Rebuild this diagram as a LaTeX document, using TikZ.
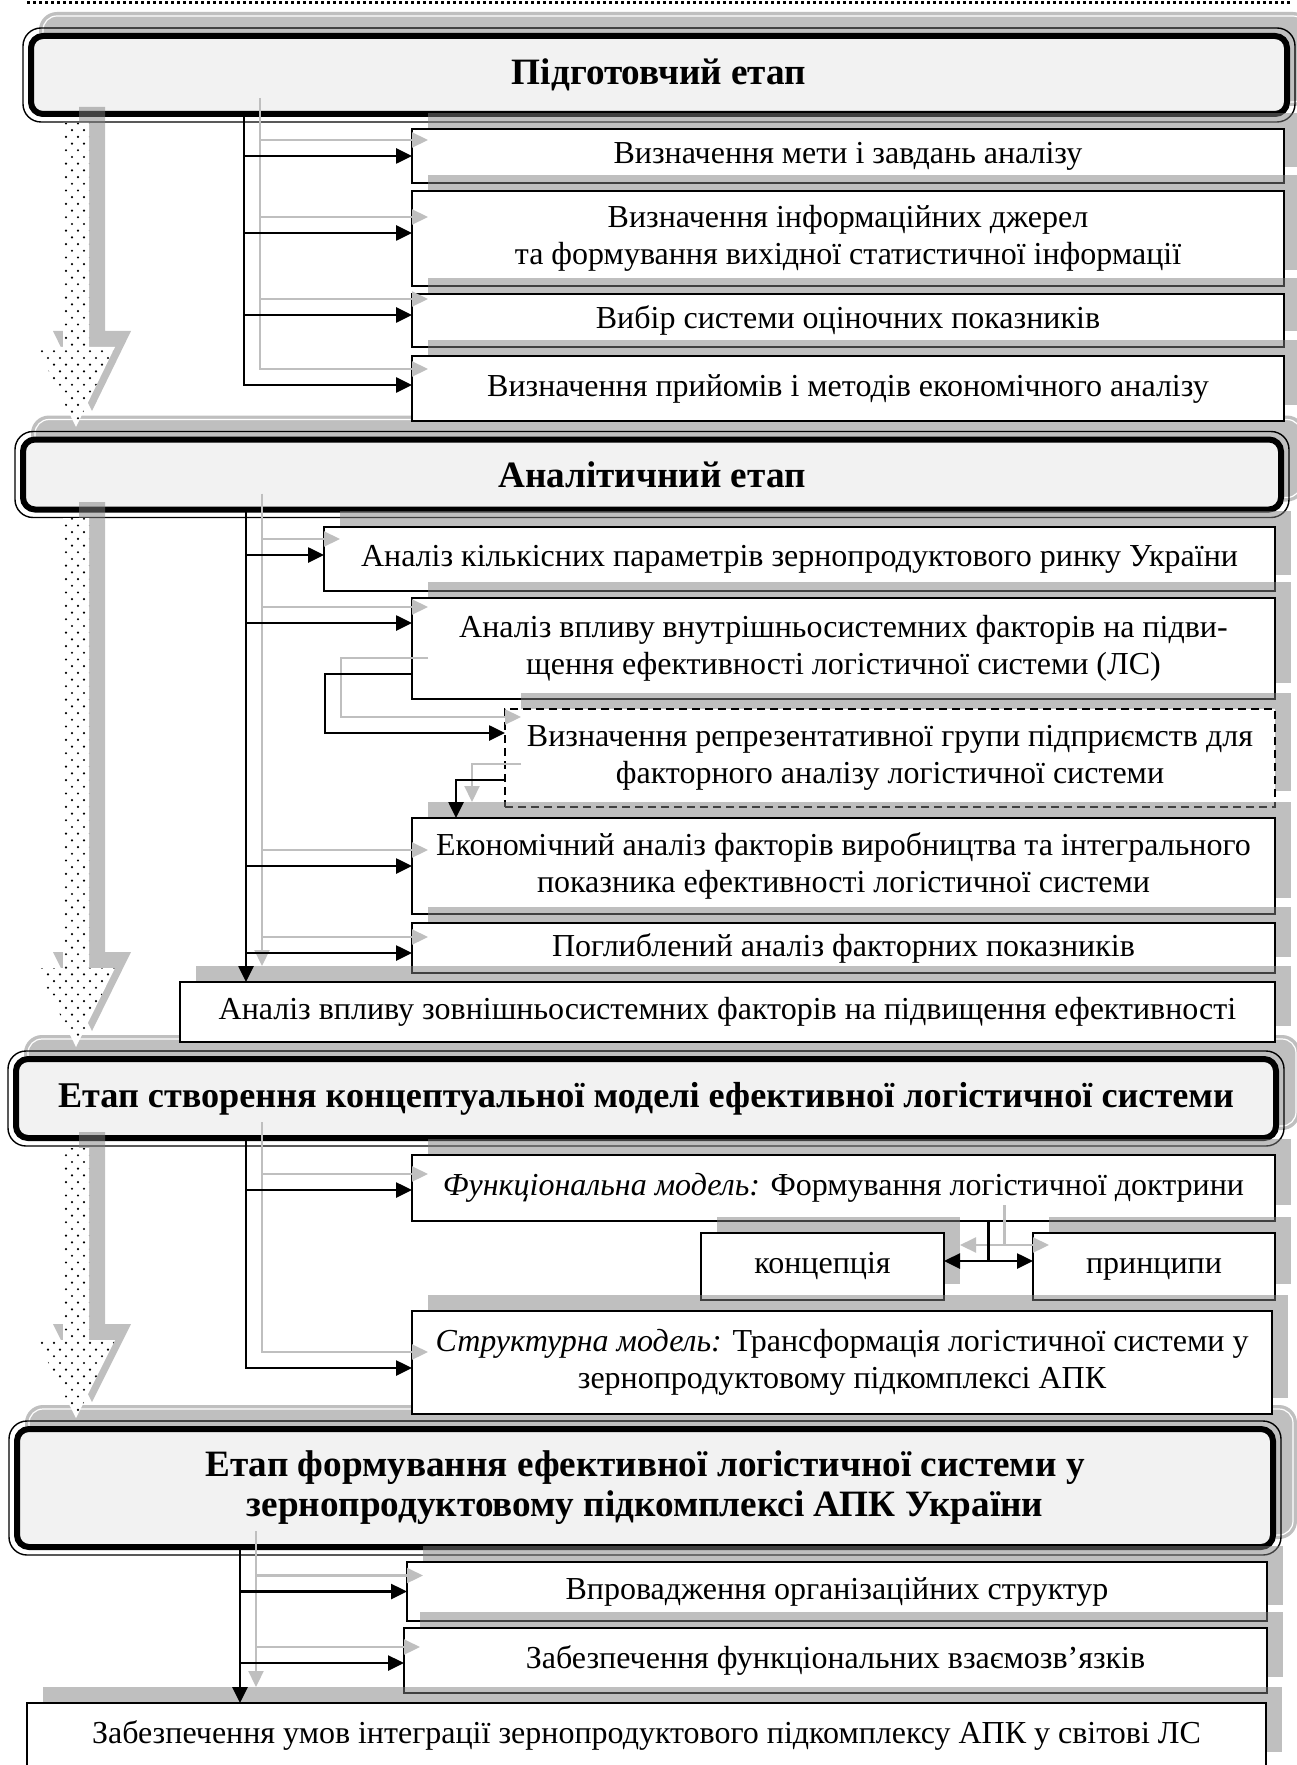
\documentclass[tikz,border=0pt]{standalone}
\usepackage{fontspec}
\setmainfont{Liberation Serif}
\usetikzlibrary{arrows.meta,shadows,patterns,calc}
\pgfdeclarelayer{bg}
\pgfsetlayers{bg,main}
\pgfdeclarepatternformonly{stagedots}{\pgfqpoint{-1pt}{-1pt}}{\pgfqpoint{7pt}{7.7pt}}{\pgfqpoint{6pt}{6.7pt}}{%
  \pgfpathcircle{\pgfqpoint{0pt}{0pt}}{0.6pt}%
  \pgfpathcircle{\pgfqpoint{3pt}{3.35pt}}{0.6pt}%
  \pgfusepath{fill}}
\definecolor{hdrfill}{HTML}{F2F2F2}
\newcommand\myBody{\fontsize{16}{18.5}\selectfont}
\newcommand\myHdr{\fontsize{18.6}{20}\selectfont\bfseries}
\newcommand\myHdrS{\fontsize{18.1}{20}\selectfont\bfseries}
\newcommand\allconnectors[1]{%
  % section 1
  \draw[#1,arr] (T1 |- H1.south) |- (iB4);
  \foreach \b in {iB1,iB2,iB3}{\draw[#1,arr] (T1 |- \b) -- (\b);}
  % section 2
  \draw[#1,arr] (T2 |- H2.south) -- (T2 |- E3.north);
  \foreach \b in {iC1,iC2,iE1,iE2}{\draw[#1,arr] (T2 |- \b) -- (\b);}
  \draw[#1,arr] ([yshift=12.5pt]C2.south west) -- ++(-87,0) |- ([yshift=-12pt]D1.north west);
  \draw[#1,arr] ([yshift=13.5pt]D1.south west) -| ([xshift=22pt]E1.north west);
  % section 3
  \draw[#1,arr] (T3 |- H3.south) |- (iF2);
  \draw[#1,arr] (T3 |- iF1) -- (iF1);
  \draw[#1] (KP |- F1.south) -- ([yshift=2.75pt]KP);
  \draw[#1,darr] ([yshift=2.75pt]K1.east) -- ([yshift=2.75pt]P1.west);
  % section 4
  \draw[#1,arr] (T4 |- H4.south) -- (T4 |- G3.north);
  \foreach \b in {iG1,iG2}{\draw[#1,arr] (T4 |- \b) -- (\b);}
}
\begin{document}
\begin{tikzpicture}[x=0.5pt,y=-0.5pt,
  box/.style={draw=black, line width=1.1pt, fill=white, inner sep=0pt, outer sep=0pt,
    align=center, font=\myBody,
    drop shadow={shadow xshift=8pt, shadow yshift=8pt, opacity=0.5, fill=black!50}},
  dbox/.style={box, dash pattern=on 4pt off 2.5pt, line width=0.8pt},
  hdr/.style={draw=black, line width=3pt, fill=hdrfill, rounded corners=6pt,
    inner sep=0pt, outer sep=0pt, align=center, font=\myHdr},
  sz/.style 2 args={minimum width=#1*0.5pt, minimum height=#2*0.5pt},
  hout/.style={draw=black, line width=0.7pt, rounded corners=9pt},
  hshadow/.style={fill=black!25, rounded corners=9pt},
  conn/.style={draw=black, line width=1.3pt},
  ghost/.style={draw=black!25, line width=1.1pt, transform canvas={shift={(16,-16)}}},
  arr/.style={-{Triangle[length=8pt,width=7.5pt]}},
  darr/.style={{Triangle[length=8pt,width=7.5pt]}-{Triangle[length=8pt,width=7.5pt]}},
  bigshadow/.style={fill=black!50, opacity=0.5}
]
\useasboundingbox (0,0) rectangle (1296,1765);

% top dotted rule
\draw[line width=1.5pt, dash pattern=on 1.5pt off 1.5pt] (27,3) -- (1292,3);

% headers
\node[hdr, sz={1256}{78}] (H1) at (659,75) {Підготовчий етап};
\node[hdr, sz={1258}{70}] (H2) at (652,474.5) {Аналітичний етап};
\node[hdr, sz={1260}{79}, font=\myHdrS] (H3) at (646,1098.5) {Етап створення концептуальної моделі ефективної логістичної системи};
\node[hdr, sz={1256}{118}] (H4) at (645,1488) {Етап формування ефективної логістичної системи у\\зернопродуктовому підкомплексі АПК України};
\foreach \h in {H1,H2,H3,H4}{
  \draw[hout] ([shift={(-8,-8)}]\h.north west) rectangle ([shift={(8,8)}]\h.south east);
}
\begin{pgfonlayer}{bg}
  \fill[white] (0,0) rectangle (1296,1765);
  \foreach \h in {H1,H2,H3,H4}{
    \fill[hshadow] ([shift={(8,-24)}]\h.north west) rectangle ([shift={(24,-8)}]\h.south east);
    \draw[white, line width=0.6pt, rounded corners=7pt] ([shift={(12,-20)}]\h.north west) rectangle ([shift={(20,-12)}]\h.south east);
  }
\end{pgfonlayer}

% big stage arrows
\foreach \t/\b/\p in {123/347/427, 518/968/1047, 1148/1340/1418}{
  \fill[bigshadow, shift={(16,-16)}] (63,\t) -- (89,\t) -- (89,\b) -- (115,\b) -- (76,\p) -- (37,\b) -- (63,\b) -- cycle;
  \fill[white] (63,\t) -- (89,\t) -- (89,\b) -- (115,\b) -- (76,\p) -- (37,\b) -- (63,\b) -- cycle;
  \fill[pattern=stagedots] (63,\t) -- (89,\t) -- (89,\b) -- (115,\b) -- (76,\p) -- (37,\b) -- (63,\b) -- cycle;
}

% section 1
\node[box, sz={872}{54}] (B1) at (848,156) {Визначення мети і завдань аналізу};
\node[box, sz={872}{95}] (B2) at (848,238.5) {Визначення інформаційних джерел\\та формування вихідної статистичної інформації};
\node[box, sz={872}{53}] (B3) at (848,320.5) {Вибір системи оціночних показників};
\node[box, sz={872}{65}] (B4) at (848,388.5) {Визначення прийомів і методів економічного аналізу};

% section 2
\node[box, sz={951}{64}] (C1) at (799.5,559) {Аналіз кількісних параметрів зернопродуктового ринку України};
\node[box, sz={863}{101}] (C2) at (843.5,648.5) {Аналіз впливу внутрішньосистемних факторів на підви-\\щення ефективності логістичної системи (ЛС)};
\node[dbox, sz={770}{98}] (D1) at (890,758) {Визначення репрезентативної групи підприємств для\\факторного аналізу логістичної системи};
\node[box, sz={863}{96}] (E1) at (843.5,866) {Економічний аналіз факторів виробництва та інтегрального\\показника ефективності логістичної системи};
\node[box, sz={863}{50}] (E2) at (843.5,948) {Поглиблений аналіз факторних показників};
\node[box, sz={1095}{60}] (E3) at (727.5,1012) {Аналіз впливу зовнішньосистемних факторів на підвищення ефективності};

% section 3
\node[box, sz={863}{66}] (F1) at (843.5,1188) {\textit{Функціональна модель:} Формування логістичної доктрини};
\node[box, sz={243}{67}] (K1) at (822.5,1266.5) {\strut концепція};
\node[box, sz={242}{67}] (P1) at (1154,1266.5) {\strut принципи};
\node[box, sz={860}{103}] (F2) at (842,1362.5) {\textit{Структурна модель:} Трансформація логістичної системи у\\зернопродуктовому підкомплексі АПК};

% section 4
\node[box, sz={860}{59}] (G1) at (837,1591.5) {Впровадження організаційних структур};
\node[box, sz={863}{65}] (G2) at (835.5,1660.5) {Забезпечення функціональних взаємозв’язків};
\node[box, sz={1239}{65}] (G3) at (646.5,1735.5) {Забезпечення умов інтеграції зернопродуктового підкомплексу АПК у світові ЛС};

% trunk positions and inlets
\coordinate (T1) at (244,0);
\coordinate (T2) at (246,0);
\coordinate (T3) at (246,0);
\coordinate (T4) at (240,0);
\coordinate (iB1) at (B1.west);
\coordinate (iB2) at ([yshift=2.75pt]B2.west);
\coordinate (iB3) at ([yshift=2.75pt]B3.west);
\coordinate (iB4) at ([yshift=1.75pt]B4.west);
\coordinate (iC1) at ([yshift=2pt]C1.west);
\coordinate (iC2) at ([yshift=-12.5pt]C2.north west);
\coordinate (iE1) at (E1.west);
\coordinate (iE2) at ([yshift=-2.5pt]E2.west);
\coordinate (iF1) at ([yshift=-1pt]F1.west);
\coordinate (iF2) at ([yshift=-2.75pt]F2.west);
\coordinate (iG1) at (G1.west);
\coordinate (iG2) at ([yshift=-1.25pt]G2.west);
\coordinate (KP) at ($(K1.east)!0.5!(P1.west)$);

\allconnectors{ghost}
\allconnectors{conn}
\end{tikzpicture}
\end{document}
